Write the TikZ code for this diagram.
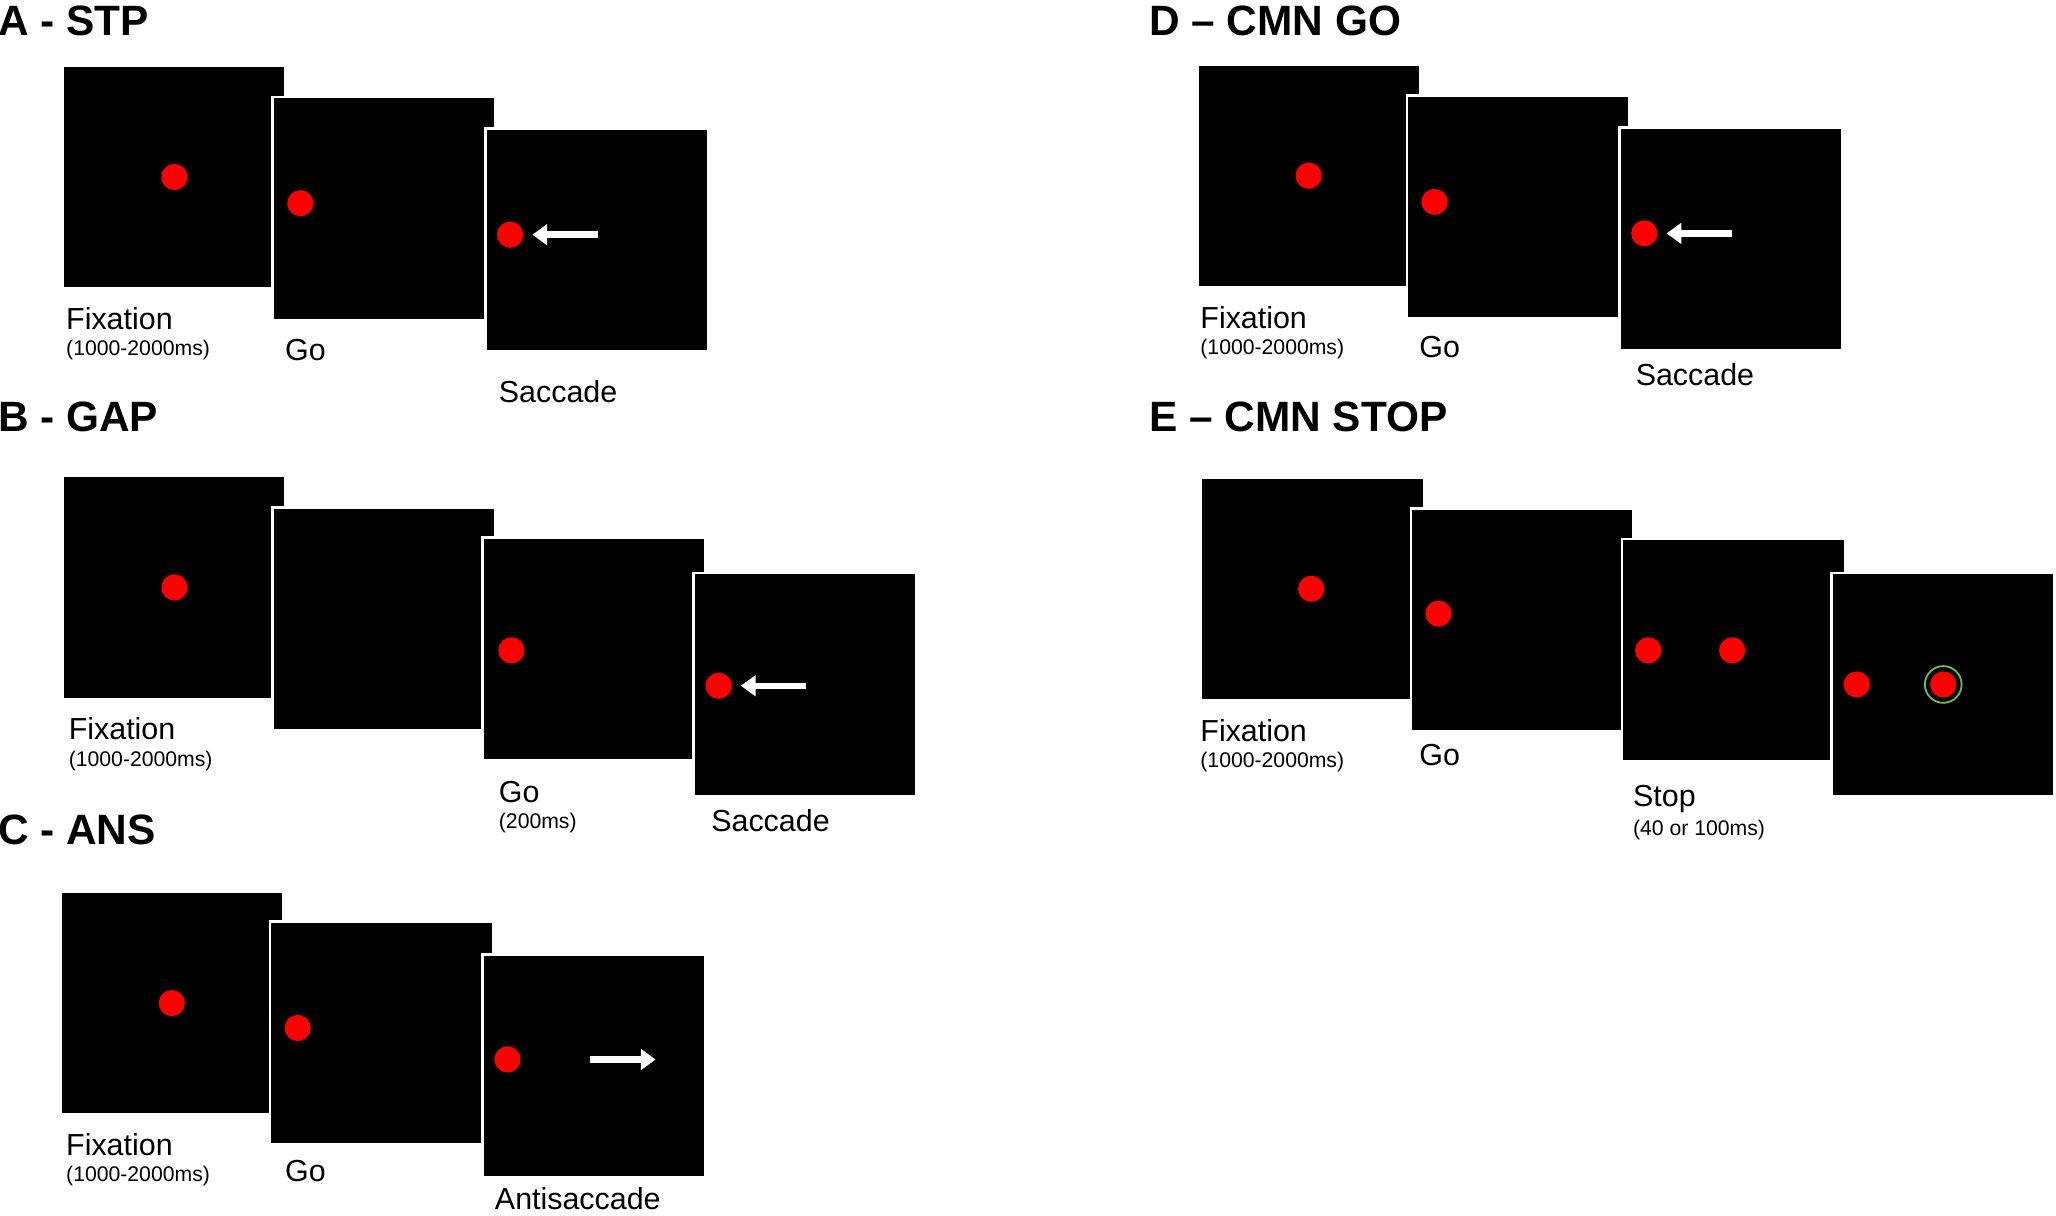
\documentclass[tikz,border=0pt]{standalone}
\usepackage{fontspec}
\setmainfont{Liberation Sans}
\usetikzlibrary{arrows.meta}
\definecolor{ringgreen}{RGB}{110,190,70}
\tikzset{
  screen/.style={fill=black, draw=white, line width=3pt},
  dot/.style={fill=red},
  move/.style={draw=white, line width=7pt, -{Triangle[length=16pt,width=22pt]}},
  panel/.style={anchor=west, font=\fontsize{46}{50}\selectfont\bfseries},
  label/.style={anchor=west, font=\fontsize{33}{36}\selectfont},
  small/.style={anchor=west, font=\fontsize{23}{26}\selectfont}
}
\newcommand{\screenbox}[2]{\draw[screen] (#1,-#2) rectangle ++(170,-170);}
\newcommand{\reddot}[2]{\fill[dot] (#1,-#2) circle (10);}
\begin{document}
\begin{tikzpicture}[x=0.05cm, y=0.05cm]
        \useasboundingbox[fill=white] (0,0) rectangle (1568,-927);

        % A - STP
        \node[panel] (ta) at (-4,-16) {A - STP};
        \foreach \x/\y in {48/50, 208/74, 370/98} {\screenbox{\x}{\y}}
        \reddot{133}{135} \reddot{229}{155} \reddot{389}{179}
        \draw[move] (456,-179) -- (406,-179);
        \node[label] (a1) at (48,-243) {Fixation};
        \node[small] (a1t) at (48,-267) {(1000-2000ms)};
        \node[label] (a2) at (215,-267) {Go};
        \node[label] (a3) at (378,-299) {Saccade};

        % B - GAP
        \node[panel] (tb) at (-4,-318) {B - GAP};
        \foreach \x/\y in {48/363, 208/387, 368/410, 529/437} {\screenbox{\x}{\y}}
        \reddot{133}{448} \reddot{390}{496} \reddot{548}{523}
        \draw[move] (615,-523) -- (565,-523);
        \node[label] (b1) at (50,-556) {Fixation};
        \node[small] (b1t) at (50,-580) {(1000-2000ms)};
        \node[label] (b3) at (378,-604) {Go};
        \node[small] (b3t) at (378,-628) {(200ms)};
        \node[label] (b4) at (540,-626) {Saccade};

        % C - ANS
        \node[panel] (tc) at (-4,-633) {C - ANS};
        \foreach \x/\y in {46/680, 206/703, 368/728} {\screenbox{\x}{\y}}
        \reddot{131}{765} \reddot{227}{784} \reddot{387}{808}
        \draw[move] (450,-808) -- (500,-808);
        \node[label] (c1) at (48,-873) {Fixation};
        \node[small] (c1t) at (48,-897) {(1000-2000ms)};
        \node[label] (c2) at (215,-893) {Go};
        \node[label] (c3) at (375,-914) {Antisaccade};

        % D - CMN GO
        \node[panel] (td) at (874,-16) {D -- CMN GO};
        \foreach \x/\y in {913/49, 1073/73, 1235/97} {\screenbox{\x}{\y}}
        \reddot{998}{134} \reddot{1094}{154} \reddot{1254}{178}
        \draw[move] (1321,-178) -- (1271,-178);
        \node[label] (d1) at (913,-242) {Fixation};
        \node[small] (d1t) at (913,-266) {(1000-2000ms)};
        \node[label] (d2) at (1080,-265) {Go};
        \node[label] (d3) at (1245,-286) {Saccade};

        % E - CMN STOP
        \node[panel] (te) at (874,-318) {E -- CMN STOP};
        \foreach \x/\y in {916/364, 1076/388, 1237/411, 1397/437} {\screenbox{\x}{\y}}
        \reddot{1000}{449} \reddot{1097}{468} \reddot{1257}{496}
        \reddot{1321}{496} \reddot{1416}{522} \reddot{1482}{522}
        \draw[ringgreen, line width=2pt] (1482,-522) circle (14);
        \node[label] (e1) at (913,-557) {Fixation};
        \node[small] (e1t) at (913,-581) {(1000-2000ms)};
        \node[label] (e2) at (1080,-576) {Go};
        \node[label] (e3) at (1243,-609) {Stop};
        \node[small] (e3t) at (1243,-633) {(40 or 100ms)};
    \end{tikzpicture}
\end{document}
